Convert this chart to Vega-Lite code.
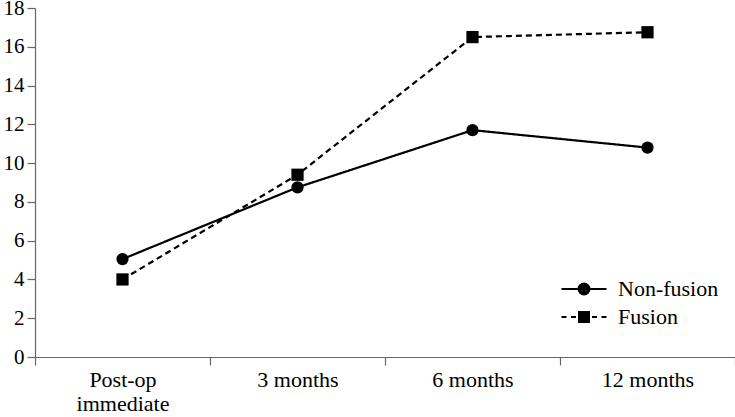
{
  "$schema": "https://vega.github.io/schema/vega-lite/v6.json",
  "width": 700,
  "height": 349,
  "padding": {"left": 35, "top": 8, "right": 0, "bottom": 60},
  "autosize": {"type": "none"},
  "background": "white",
  "config": {
    "font": "Liberation Serif",
    "view": {"stroke": null},
    "axis": {
      "domainColor": "#666666",
      "tickColor": "#666666",
      "domainWidth": 1.2,
      "tickWidth": 1.2,
      "labelColor": "black",
      "grid": false,
      "title": null,
      "tickSize": 8
    }
  },
  "data": {
    "values": [
      {"time": "Post-op immediate", "group": "Non-fusion", "value": 5.05},
      {"time": "3 months", "group": "Non-fusion", "value": 8.75},
      {"time": "6 months", "group": "Non-fusion", "value": 11.7},
      {"time": "12 months", "group": "Non-fusion", "value": 10.8},
      {"time": "Post-op immediate", "group": "Fusion", "value": 4.0},
      {"time": "3 months", "group": "Fusion", "value": 9.4},
      {"time": "6 months", "group": "Fusion", "value": 16.5},
      {"time": "12 months", "group": "Fusion", "value": 16.75}
    ]
  },
  "encoding": {
    "x": {
      "field": "time",
      "type": "ordinal",
      "sort": ["Post-op immediate", "3 months", "6 months", "12 months"],
      "scale": {"type": "band", "paddingInner": 0, "paddingOuter": 0},
      "axis": {
        "tickBand": "extent",
        "labelAngle": 0,
        "labelPadding": 4,
        "labelBaseline": "top",
        "labelLineHeight": 24,
        "labelFont": "Liberation Serif",
        "labelFontSize": 22,
        "labelExpr": "datum.label == 'Post-op immediate' ? ['Post-op', 'immediate'] : datum.label"
      }
    },
    "y": {
      "field": "value",
      "type": "quantitative",
      "scale": {"domain": [0, 18], "nice": false, "zero": true},
      "axis": {"values": [0, 2, 4, 6, 8, 10, 12, 14, 16, 18], "labelPadding": 3, "labelFont": "Liberation Serif", "labelFontSize": 21}
    }
  },
  "layer": [
    {
      "mark": {"type": "line", "color": "black", "strokeWidth": 2.2},
      "encoding": {
        "detail": {"field": "group", "type": "nominal"},
        "strokeDash": {"condition": {"test": "datum.group === 'Fusion'", "value": [6, 4]}, "value": [1, 0]}
      }
    },
    {
      "mark": {"type": "point", "filled": true, "color": "black", "opacity": 1},
      "encoding": {
        "shape": {
          "field": "group",
          "type": "nominal",
          "scale": {"domain": ["Non-fusion", "Fusion"], "range": ["circle", "square"]},
          "legend": null
        },
        "size": {"value": 150}
      }
    },
    {
      "mark": {"type": "point", "filled": false, "color": "black", "strokeWidth": 2, "opacity": 0},
      "encoding": {
        "shape": {
          "field": "group",
          "type": "nominal",
          "scale": {
            "domain": ["Non-fusion", "Fusion"],
            "range": [
              "M-2.25,0H2.25M-0.55,0A0.55,0.55 0 1 0 0.55,0A0.55,0.55 0 1 0 -0.55,0ZM-0.35,0A0.35,0.35 0 1 0 0.35,0A0.35,0.35 0 1 0 -0.35,0ZM-0.15,0A0.15,0.15 0 1 0 0.15,0A0.15,0.15 0 1 0 -0.15,0Z",
              "M-2.25,0H-1.75M-1.3,0H-0.8M0.8,0H1.3M1.75,0H2.25M-0.5,-0.5H0.5V0.5H-0.5ZM-0.3,-0.3H0.3V0.3H-0.3ZM-0.1,-0.1H0.1V0.1H-0.1Z"
            ]
          },
          "legend": {
            "title": null,
            "orient": "none",
            "legendX": 538,
            "legendY": 270,
            "padding": 0,
            "labelFont": "Liberation Serif",
            "labelFontSize": 22,
            "labelColor": "black",
            "symbolSize": 400,
            "labelOffset": 23,
            "rowPadding": 6,
            "symbolStrokeColor": "black",
            "symbolStrokeWidth": 2,
            "symbolOpacity": 1
          }
        },
        "size": {"value": 150}
      }
    }
  ],
  "resolve": {"scale": {"shape": "independent"}}
}
